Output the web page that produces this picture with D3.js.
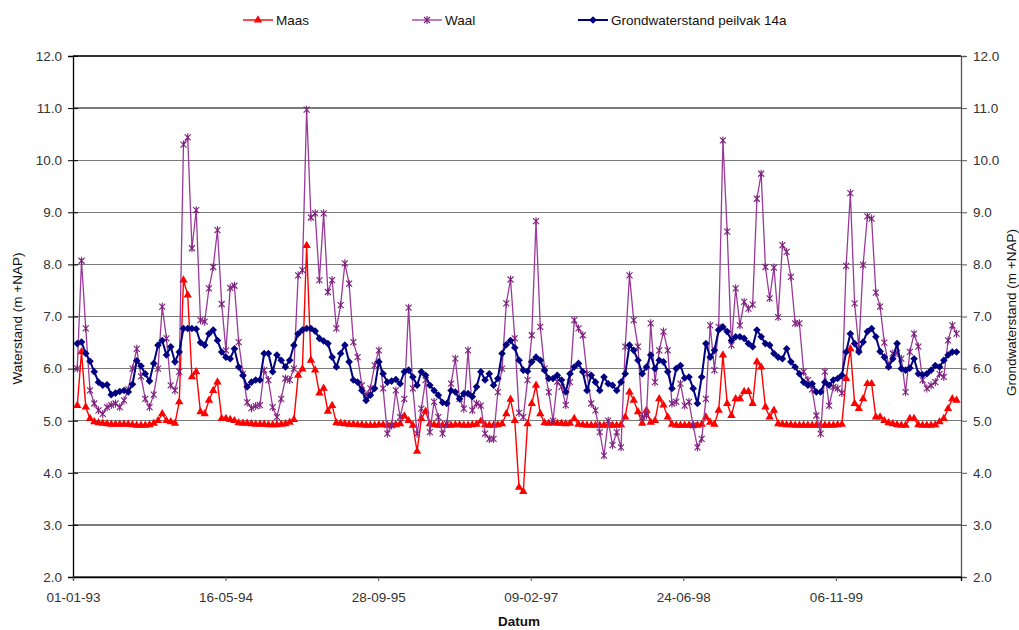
<!DOCTYPE html>
<html>
<head>
<meta charset="utf-8">
<script src="https://cdn.jsdelivr.net/npm/d3@7/dist/d3.min.js"></script>
<style>
  html, body { margin: 0; padding: 0; background: #fff; }
  svg { display: block; font-family: "Liberation Sans", Arial, sans-serif; }
</style>
</head>
<body>
<svg id="chart" width="1019" height="630"></svg>
<script>
// ---------- data ----------
const seriesNames = ["Maas", "Waal", "Grondwaterstand peilvak 14a"];
const xTickLabels = ["01-01-93", "16-05-94", "28-09-95", "09-02-97", "24-06-98", "06-11-99"];
const yTicks = [2, 3, 4, 5, 6, 7, 8, 9, 10, 11, 12];
const axisStart = "01-01-93";
const firstSample = "15-01-93";
const sampleStepDays = 13.92;   // roughly fortnightly measurements

const maas = [
  5.29, 6.32, 5.26, 5.04, 4.98, 4.96, 4.95, 4.94, 4.93, 4.93,
  4.93, 4.93, 4.93, 4.92, 4.91, 4.91, 4.91, 4.92, 4.95, 5.00,
  5.13, 5.00, 4.98, 4.95, 5.36, 7.70, 7.41, 5.84, 5.94, 5.17,
  5.13, 5.39, 5.58, 5.74, 5.04, 5.04, 5.02, 5.00, 4.96, 4.95,
  4.95, 4.94, 4.93, 4.93, 4.93, 4.92, 4.92, 4.92, 4.93, 4.94,
  4.97, 5.02, 5.87, 5.99, 8.36, 6.16, 5.97, 5.53, 5.62, 5.18,
  5.29, 4.96, 4.95, 4.94, 4.93, 4.93, 4.92, 4.92, 4.91, 4.91,
  4.91, 4.92, 4.92, 4.91, 4.91, 4.92, 4.94, 5.09, 5.00, 4.91,
  4.41, 5.04, 5.18, 4.94, 4.92, 4.91, 4.91, 4.91, 4.91, 4.92,
  4.92, 4.91, 4.91, 4.92, 4.93, 4.99, 4.92, 4.91, 4.91, 4.92,
  4.94, 5.13, 5.41, 5.00, 3.72, 3.64, 4.94, 5.33, 5.68, 5.13,
  4.96, 4.95, 4.96, 4.95, 4.95, 4.94, 4.95, 5.04, 4.93, 4.92,
  4.91, 4.91, 4.91, 4.91, 4.91, 4.91, 4.91, 4.91, 4.92, 5.07,
  5.55, 5.39, 5.17, 4.95, 5.20, 4.97, 5.00, 5.42, 5.30, 5.07,
  4.93, 4.91, 4.91, 4.91, 4.91, 4.91, 4.91, 4.93, 5.07, 4.97,
  4.93, 5.20, 6.26, 5.33, 5.10, 5.42, 5.42, 5.56, 5.56, 5.33,
  6.13, 6.03, 5.26, 5.07, 5.20, 4.94, 4.93, 4.92, 4.92, 4.91,
  4.91, 4.91, 4.91, 4.91, 4.91, 4.91, 4.91, 4.91, 4.91, 4.92,
  4.93, 5.81, 6.38, 5.33, 5.23, 5.42, 5.71, 5.71, 5.07, 5.07,
  5.00, 4.96, 4.94, 4.92, 4.91, 4.91, 5.04, 5.04, 4.92, 4.91,
  4.91, 4.91, 4.92, 4.98, 5.04, 5.23, 5.42, 5.39
];

const waal = [
  6.00, 8.07, 6.77, 5.58, 5.33, 5.20, 5.13, 5.26, 5.30, 5.33,
  5.26, 5.39, 5.60, 6.00, 6.38, 5.85, 5.42, 5.26, 5.50, 6.00,
  7.19, 6.58, 5.68, 5.58, 5.94, 10.30, 10.44, 8.31, 9.04, 6.93,
  6.90, 7.54, 7.95, 8.66, 7.24, 6.35, 7.55, 7.59, 6.51, 5.90,
  5.35, 5.24, 5.28, 5.30, 5.97, 5.78, 5.26, 5.07, 5.42, 5.81,
  5.78, 6.00, 7.79, 7.89, 10.97, 8.90, 8.98, 7.70, 8.98, 7.47,
  7.70, 6.77, 7.22, 8.02, 7.63, 6.51, 6.22, 5.68, 5.49, 5.62,
  6.06, 6.35, 5.62, 4.75, 4.91, 5.58, 5.07, 5.42, 7.17, 5.62,
  4.75, 5.23, 5.78, 4.78, 5.36, 5.07, 4.75, 4.94, 5.71, 6.19,
  5.42, 5.23, 6.35, 5.20, 5.33, 5.29, 4.75, 4.65, 4.65, 5.55,
  6.00, 7.25, 7.71, 6.58, 5.15, 5.07, 5.78, 6.64, 8.83, 6.80,
  6.00, 5.55, 5.00, 5.75, 5.65, 5.30, 5.74, 6.93, 6.77, 6.64,
  5.90, 5.33, 5.20, 4.78, 4.33, 5.00, 4.53, 4.78, 4.49, 6.42,
  7.79, 6.93, 6.42, 5.07, 5.10, 6.87, 5.74, 6.35, 6.71, 6.35,
  5.33, 5.36, 5.71, 5.29, 5.36, 4.91, 4.49, 4.65, 5.42, 6.83,
  5.97, 6.80, 10.38, 8.63, 6.45, 7.54, 6.83, 7.28, 7.15, 7.23,
  9.26, 9.74, 7.95, 7.35, 7.94, 6.99, 8.37, 8.24, 7.76, 6.87,
  6.87, 5.94, 5.78, 5.60, 5.10, 4.75, 5.94, 5.29, 5.65, 5.62,
  5.53, 7.97, 9.37, 7.25, 6.40, 7.99, 8.92, 8.88, 7.46, 7.19,
  6.50, 6.06, 6.29, 6.30, 6.19, 5.55, 6.32, 6.67, 6.42, 5.78,
  5.62, 5.68, 5.74, 5.90, 5.84, 6.54, 6.83, 6.67
];

const grondwater = [
  6.48, 6.51, 6.29, 6.14, 5.94, 5.74, 5.68, 5.69, 5.50, 5.53,
  5.56, 5.58, 5.55, 5.70, 6.15, 6.05, 5.90, 5.76, 6.10, 6.45,
  6.54, 6.26, 6.42, 6.13, 6.32, 6.77, 6.77, 6.77, 6.76, 6.50,
  6.45, 6.67, 6.74, 6.54, 6.32, 6.22, 6.19, 6.38, 6.03, 5.87,
  5.65, 5.74, 5.78, 5.78, 6.29, 6.29, 5.94, 6.26, 6.16, 6.03,
  6.16, 6.45, 6.67, 6.74, 6.77, 6.77, 6.72, 6.58, 6.53, 6.48,
  6.22, 6.03, 6.29, 6.45, 6.13, 5.78, 5.74, 5.58, 5.39, 5.49,
  5.62, 6.13, 5.90, 5.74, 5.76, 5.79, 5.71, 5.94, 5.97, 5.84,
  5.68, 5.94, 5.87, 5.68, 5.58, 5.49, 5.35, 5.33, 5.58, 5.55,
  5.42, 5.52, 5.52, 5.46, 5.65, 5.94, 5.78, 5.90, 5.68, 5.81,
  6.29, 6.46, 6.54, 6.40, 6.16, 5.97, 5.95, 6.13, 6.22, 6.16,
  5.97, 5.81, 5.81, 5.87, 5.78, 5.55, 5.90, 6.03, 6.10, 5.94,
  5.58, 5.87, 5.74, 5.58, 5.84, 5.71, 5.68, 5.58, 5.74, 5.90,
  6.45, 6.35, 6.16, 5.90, 6.03, 6.26, 6.00, 6.16, 6.13, 5.94,
  5.62, 6.00, 6.06, 5.82, 5.84, 5.62, 5.33, 5.84, 6.48, 6.22,
  6.35, 6.74, 6.80, 6.71, 6.54, 6.61, 6.61, 6.58, 6.48, 6.42,
  6.74, 6.61, 6.48, 6.45, 6.29, 6.22, 6.19, 6.38, 6.13, 6.03,
  5.90, 5.74, 5.68, 5.71, 5.55, 5.55, 5.74, 5.68, 5.78, 5.81,
  5.87, 6.32, 6.67, 6.48, 6.32, 6.51, 6.71, 6.77, 6.61, 6.33,
  6.22, 6.03, 6.19, 6.48, 6.00, 5.97, 6.01, 6.19, 5.90, 5.88,
  5.90, 5.97, 6.06, 6.03, 6.16, 6.26, 6.32, 6.32
];

// ---------- setup ----------
const FONT = "Liberation Sans, Arial, sans-serif";
const FS = 13.5;
const parse = d3.utcParse("%d-%m-%y");
const fmt = d3.utcFormat("%d-%m-%y");
const DAY = 86400000;
const t0 = parse(axisStart);
const s0 = parse(firstSample);
const dates = maas.map((_, i) => new Date(s0.getTime() + i * sampleStepDays * DAY));

const plot = { left: 73, right: 961, top: 56, bottom: 577 };
const x = d3.scaleUtc()
  .domain([t0, new Date(t0.getTime() + 2910 * DAY)])
  .range([plot.left, plot.right]);
const yL = d3.scaleLinear().domain([2, 12]).range([plot.bottom, plot.top]);
const yR = d3.scaleLinear().domain([2, 12]).range([plot.bottom, plot.top]);

const svg = d3.select("#chart");
svg.append("rect").attr("width", 1019).attr("height", 630).attr("fill", "#fff");

// gridlines
svg.append("g").selectAll("line").data(yTicks).join("line")
  .attr("x1", plot.left).attr("x2", plot.right)
  .attr("y1", d => yL(d)).attr("y2", d => yL(d))
  .attr("stroke", d => d === 12 ? "#333" : "#7a7a7a")
  .attr("stroke-width", 1.3)
  .attr("shape-rendering", "crispEdges");

// left axis
const gL = svg.append("g").attr("transform", `translate(${plot.left},0)`)
  .call(d3.axisLeft(yL).tickValues(yTicks).tickFormat(d3.format(".1f")).tickSize(5).tickPadding(6));
gL.select(".domain").attr("stroke", "#000").attr("stroke-width", 1.3);
gL.selectAll(".tick line").attr("x1", 5).attr("x2", -5).attr("stroke", "#000");
gL.selectAll(".tick text").attr("font-size", FS).attr("fill", "#333").attr("font-family", FONT);

// right axis
const gR = svg.append("g").attr("transform", `translate(${plot.right},0)`)
  .call(d3.axisRight(yR).tickValues(yTicks).tickFormat(d3.format(".1f")).tickSize(5).tickPadding(7));
gR.select(".domain").attr("stroke", "#555").attr("stroke-width", 1.3);
gR.selectAll(".tick line").attr("x1", 0).attr("x2", 6).attr("stroke", "#555");
gR.selectAll(".tick text").attr("font-size", FS).attr("fill", "#333").attr("font-family", FONT);

// bottom axis
const xTickDates = xTickLabels.map(parse);
const gB = svg.append("g").attr("transform", `translate(0,${plot.bottom})`)
  .call(d3.axisBottom(x).tickValues(xTickDates).tickFormat(fmt).tickSize(4).tickPadding(11));
gB.select(".domain").attr("stroke", "#000").attr("stroke-width", 1.3);
gB.selectAll(".tick line").attr("stroke", "#555");
gB.selectAll(".tick text").attr("font-size", FS).attr("fill", "#333").attr("font-family", FONT);

// axis titles
svg.append("text").attr("transform", `translate(22,${(plot.top + plot.bottom) / 2 + 2}) rotate(-90)`)
  .attr("text-anchor", "middle").attr("font-size", FS).attr("fill", "#111")
  .text("Waterstand (m +NAP)");
svg.append("text").attr("transform", `translate(1016,${(plot.top + plot.bottom) / 2 - 4}) rotate(-90)`)
  .attr("text-anchor", "middle").attr("font-size", FS).attr("fill", "#111")
  .text("Grondwaterstand (m +NAP)");
svg.append("text").attr("x", 519).attr("y", 626).attr("text-anchor", "middle")
  .attr("font-size", FS).attr("font-weight", "bold").attr("fill", "#111").text("Datum");

// ---------- series ----------
const starPath = "M-3,-3L3,3M-3,3L3,-3M0,-4L0,4";
const diamondPath = "M0,-3.8L3.8,0L0,3.8L-3.8,0Z";
const triPath = d3.symbol().type(d3.symbolTriangle).size(30)();

const series = [
  { name: seriesNames[0], values: maas, scale: yL, color: "#ff0000", width: 1.4, marker: "tri" },
  { name: seriesNames[1], values: waal, scale: yL, color: "#9a3a9a", mcolor: "#7d1f7d", width: 1.3, marker: "star" },
  { name: seriesNames[2], values: grondwater, scale: yR, color: "#000080", width: 2, marker: "diamond" }
];

function drawMarker(sel, s) {
  if (s.marker === "tri") {
    sel.append("path").attr("d", triPath).attr("fill", s.color);
  } else if (s.marker === "star") {
    sel.append("path").attr("d", starPath).attr("fill", "none")
      .attr("stroke", s.mcolor).attr("stroke-width", 1.1);
  } else {
    sel.append("path").attr("d", diamondPath).attr("fill", s.color);
  }
}

series.forEach(s => {
  const pts = s.values.map((v, i) => ({ d: dates[i], v }));
  const line = d3.line().x(p => x(p.d)).y(p => s.scale(p.v));
  const g = svg.append("g");
  g.append("path").datum(pts).attr("d", line).attr("fill", "none")
    .attr("stroke", s.color).attr("stroke-width", s.width).attr("stroke-linejoin", "round");
  g.selectAll("g.m").data(pts).join("g").attr("class", "m")
    .attr("transform", p => `translate(${x(p.d)},${s.scale(p.v)})`)
    .each(function () { drawMarker(d3.select(this), s); });
});

// ---------- legend ----------
const legendX = [243, 412, 578];
const legend = svg.append("g");
series.forEach((s, i) => {
  const g = legend.append("g").attr("transform", `translate(${legendX[i]},20)`);
  g.append("line").attr("x1", 0).attr("x2", 30).attr("y1", 0).attr("y2", 0)
    .attr("stroke", s.color).attr("stroke-width", s.width);
  const m = g.append("g").attr("transform", "translate(15,0)");
  drawMarker(m, s);
  g.append("text").attr("x", 33).attr("y", 5).attr("font-size", FS).attr("fill", "#111").text(s.name);
});
</script>
</body>
</html>
